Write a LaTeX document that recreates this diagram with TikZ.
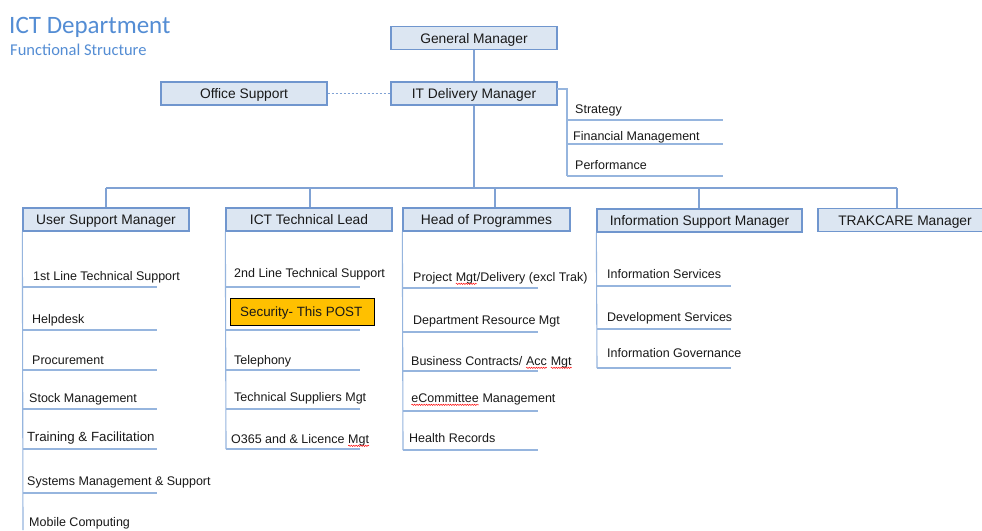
\documentclass[tikz,border=0pt]{standalone}
\usepackage{fontspec}
\setmainfont{Liberation Sans}
\newfontfamily\titlefont{Carlito}
\usetikzlibrary{decorations.pathmorphing}

% red wavy underline, as left by a spell checker
\newcommand\spellwave[1]{\tikz[baseline=(sw.base)]{%
  \node[anchor=base, inner sep=0pt, outer sep=0pt] (sw) at (0,0) {#1};
  \draw[red, line width=0.45pt, decorate, decoration={snake, amplitude=0.7pt, segment length=2.4pt}]
    ([yshift=-2.8pt]sw.base west) -- ([yshift=-2.8pt]sw.base east);}}

\definecolor{boxfill}{RGB}{220,230,242}
\definecolor{boxline}{RGB}{112,150,206}
\definecolor{wirecol}{RGB}{128,162,212}
\definecolor{rulecol}{RGB}{150,181,222}
\definecolor{titleblue}{RGB}{84,141,212}
\definecolor{ink}{RGB}{25,25,25}
\definecolor{postfill}{RGB}{255,192,0}

\begin{document}
\begin{tikzpicture}[x=1pt,y=-1pt,
  role/.style={draw=boxline, line width=1.3pt, fill=boxfill, inner sep=0pt,
    minimum height=23pt, text height=10pt, text depth=0pt,
    font=\fontsize{13.8}{15}\selectfont, text=ink},
  item/.style={anchor=base west, inner sep=0pt, font=\fontsize{12.5}{14}\selectfont, text=ink},
  wire/.style={draw=wirecol, line width=1.4pt},
  rulel/.style={draw=rulecol, line width=1.1pt},
  post/.style={draw=black, line width=1pt, fill=postfill, inner sep=0pt,
    minimum width=144pt, minimum height=27pt}
]
\useasboundingbox[fill=white] (0,0) rectangle (982,530);

% heading
\node[anchor=base west, inner sep=0pt, text=titleblue, font=\titlefont\fontsize{25}{28}\selectfont]
  (title) at (9,33) {ICT Department};
\node[anchor=base west, inner sep=0pt, text=titleblue, font=\titlefont\fontsize{16.5}{18}\selectfont]
  (subtitle) at (10,55) {Functional Structure};

% management boxes
\node[role, minimum width=166pt] (gm)     at (474,38)  {General Manager};
\node[role, minimum width=166pt] (itdm)   at (474,93.5) {IT Delivery Manager};
\node[role, minimum width=166pt] (office) at (244,93.5) {Office Support};

\node[role, minimum width=166pt] (usm)  at (106,219.5) {User Support Manager};
\node[role, minimum width=166pt] (tech) at (309,219.5) {ICT Technical Lead};
\node[role, minimum width=167pt] (hop)  at (486.5,219.5) {Head of Programmes};
\node[role, minimum width=205pt] (ism)  at (699.5,220.5) {Information Support Manager};
\node[role, minimum width=174pt] (trak) at (905,220) {TRAKCARE Manager};

% top connectors
\draw[wire] (gm.south) -- (itdm.north);
\draw[draw=wirecol, line width=1.3pt, dash pattern=on 2.5pt off 1.5pt] (office.east) -- (itdm.west);

% bus to the second level
\coordinate (bus)   at (474,188);
\coordinate (busL)  at (106,188);
\coordinate (busR)  at (897,188);
\coordinate (dropA) at (106,188);
\coordinate (dropB) at (310,188);
\coordinate (dropC) at (495,188);
\coordinate (dropD) at (699,188);
\coordinate (dropE) at (897,188);
\draw[wire] (itdm.south) -- (bus);
\draw[wire] (busL) -- (busR);
\draw[wire] (dropA) -- (dropA |- usm.north);
\draw[wire] (dropB) -- (dropB |- tech.north);
\draw[wire] (dropC) -- (dropC |- hop.north);
\draw[wire] (dropD) -- (dropD |- ism.north);
\draw[wire] (dropE) -- (dropE |- trak.north);

% IT Delivery Manager functions
\coordinate (dStart) at (557,89);
\coordinate (dTop)   at (567,89);
\coordinate (dEnd)   at (567,176);
\draw[rulel] (dStart) -- (dTop) -- (dEnd);
\foreach \y in {120,144,176} \draw[rulel] (567,\y) -- (723,\y);
\node[item] (d1) at (575,113) {Strategy};
\node[item] (d2) at (573,140) {Financial Management};
\node[item] (d3) at (575,169) {Performance};

% User Support Manager functions
\coordinate (uEnd) at (23,530);
\draw[rulel] (usm.south west) -- (uEnd);
\foreach \y in {287,330,370,409,449,493} \draw[rulel] (23,\y) -- (157,\y);
\node[item] (u1) at (33,280) {1st Line Technical Support};
\node[item] (u2) at (32,323) {Helpdesk};
\node[item] (u3) at (32,364) {Procurement};
\node[item] (u4) at (29,402) {Stock Management};
\node[item, font=\fontsize{13.3}{15}\selectfont] (u5) at (27,441) {Training \& Facilitation};
\node[item] (u6) at (27,485) {Systems Management \& Support};
\node[item] (u7) at (29,526) {Mobile Computing};

% ICT Technical Lead functions
\coordinate (tEnd) at (226,449);
\draw[rulel] (tech.south west) -- (tEnd);
\foreach \y in {287,330,370,409,449} \draw[rulel] (226,\y) -- (360,\y);
\node[item] (t1) at (234,277) {2nd Line Technical Support};
\node[post] (t2) at (302,311.5) {};
\node[item, font=\fontsize{13.4}{15}\selectfont] (t2label) at (240,316.5) {Security- This POST};
\node[item] (t3) at (234,364) {Telephony};
\node[item] (t4) at (234,401) {Technical Suppliers Mgt};
\node[item] (t5) at (231,443) {O365 and \& Licence \spellwave{Mgt}};

% Head of Programmes functions
\coordinate (hEnd) at (403,450);
\draw[rulel] (hop.south west) -- (hEnd);
\foreach \y in {288,332,371,411,450} \draw[rulel] (403,\y) -- (538,\y);
\node[item] (h1) at (413,281) {Project \spellwave{Mgt}/Delivery (excl Trak)};
\node[item] (h2) at (413,324) {Department Resource Mgt};
\node[item] (h3) at (411,365) {Business Contracts/ \spellwave{Acc} \spellwave{Mgt}};
\node[item] (h4) at (411,402) {\spellwave{eCommittee} Management};
\node[item] (h5) at (409,442) {Health Records};

% Information Support Manager functions
\coordinate (iEnd) at (597,368);
\draw[rulel] (ism.south west) -- (iEnd);
\foreach \y in {286,329,368} \draw[rulel] (597,\y) -- (731,\y);
\node[item] (i1) at (607,278) {Information Services};
\node[item] (i2) at (607,321) {Development Services};
\node[item] (i3) at (607,357) {Information Governance};
\end{tikzpicture}
\end{document}
